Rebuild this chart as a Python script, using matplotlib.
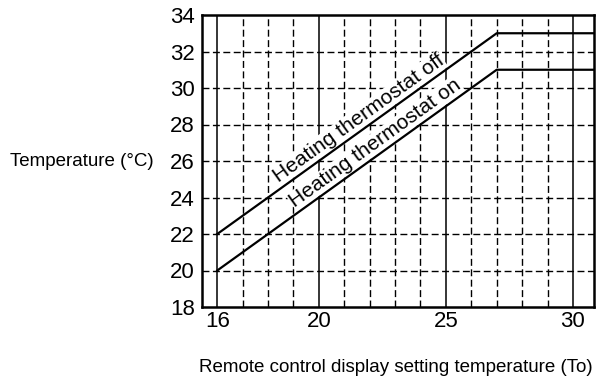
import numpy as np
import matplotlib
matplotlib.use("Agg")
import matplotlib.pyplot as plt

plt.rcParams['font.family'] = ['Liberation Sans', 'DejaVu Sans']

# setting temperature (To) and the two thermostat thresholds
to_setting = [16, 27, 30.83]
thermo_off = [22, 33, 33]
thermo_on = [20, 31, 31]

x_ticks = [16, 20, 25, 30]
y_ticks = [18, 20, 22, 24, 26, 28, 30, 32, 34]
solid_vlines = [16, 20, 25, 30]
dashed_vlines = [17, 18, 19, 21, 22, 23, 24, 26, 27, 28, 29]
dashed_hlines = [20, 22, 24, 26, 28, 30, 32]

fig = plt.figure(figsize=(6.03, 3.85), dpi=100)
ax = fig.add_axes([202 / 603, 1 - 307 / 385, (594 - 202) / 603, (307 - 15) / 385])
ax.set_xlim(15.4, 30.83)
ax.set_ylim(18, 34)

# grid
dash = (0, (5, 2.5))
for x in solid_vlines:
    ax.axvline(x, color='black', lw=1.1, zorder=1)
for x in dashed_vlines:
    ax.axvline(x, color='black', lw=1.0, ls=dash, zorder=1)
for y in dashed_hlines:
    ax.axhline(y, color='black', lw=1.0, ls=dash, zorder=1)

ax.plot(to_setting, thermo_off, color='black', lw=1.6, zorder=3)
ax.plot(to_setting, thermo_on, color='black', lw=1.6, zorder=3)

ax.set_xticks(x_ticks)
ax.set_yticks(y_ticks)
ax.tick_params(length=0, labelsize=16)
ax.tick_params(axis='x', pad=3)
ax.tick_params(axis='y', pad=5)
for s in ax.spines.values():
    s.set_linewidth(1.8)

# angle of the sloped lines on screen
fig.canvas.draw()
p0 = ax.transData.transform((16, 20))
p1 = ax.transData.transform((27, 31))
angle = np.degrees(np.arctan2(p1[1] - p0[1], p1[0] - p0[0]))

box = dict(fc='white', ec='none', pad=0.5)
ax.text(21.78, 27.78 + 0.12, "Heating thermostat off", rotation=angle,
        rotation_mode='anchor', ha='center', va='bottom', fontsize=15,
        bbox=box, zorder=2)
ax.text(22.44, 26.44 + 0.12, "Heating thermostat on", rotation=angle,
        rotation_mode='anchor', ha='center', va='bottom', fontsize=15,
        bbox=box, zorder=2)

fig.text(10 / 603, 1 - 162 / 385, "Temperature (°C)", fontsize=13.5, va='center', ha='left')
fig.text(396 / 603, 1 - 368 / 385, "Remote control display setting temperature (To)",
         fontsize=13.5, va='center', ha='center')

fig.savefig("out.png", dpi=100)
